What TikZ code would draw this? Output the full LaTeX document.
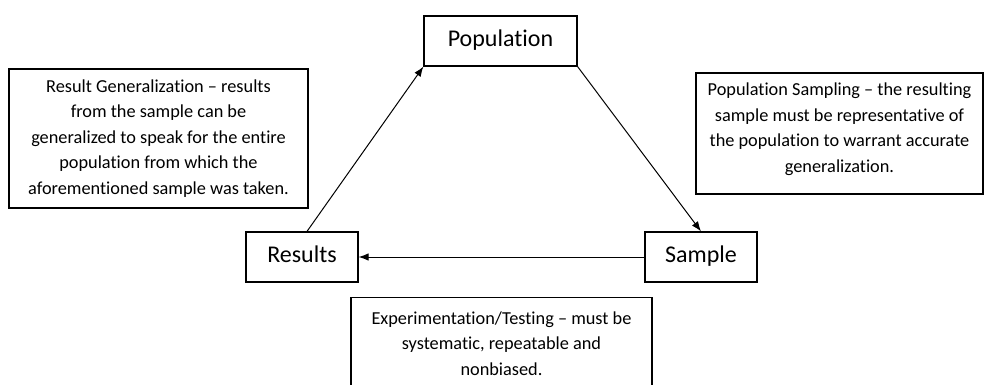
\documentclass[tikz,border=0pt]{standalone}
\usepackage{fontspec}
\setmainfont{Carlito}[Ligatures=NoCommon]
\usetikzlibrary{arrows.meta}
\begin{document}
\begin{tikzpicture}[>={Latex[length=10pt,width=7.5pt]},x=1pt,y=-1pt,
	mainbox/.style={draw,line width=1.2pt,minimum width=112pt,minimum height=50pt,inner sep=0pt,text height=16pt,text depth=5pt,font=\fontsize{24}{28}\selectfont},
	notebox/.style={draw,line width=1.2pt,align=center,inner sep=0pt,font=\fontsize{18.3}{25.5}\selectfont},
	link/.style={->,line width=1pt}]
		\useasboundingbox (0,0) rectangle (985,385);
		\clip (0,0) rectangle (985,385);
		% cycle
		\node[mainbox,minimum width=153pt] (pop) at (500.5,41) {Population};
		\node[mainbox] (res) at (302,257) {Results};
		\node[mainbox] (smp) at (701,257) {Sample};
		\draw[link] ([xshift=5pt]res.north) -- (pop.south west);
		\draw[link] (pop.south east) -- (smp.north);
		\draw[link] (smp.west) -- (res.east);
		% notes
		\node[notebox,minimum width=299pt,minimum height=139pt] (gennote) at (158.5,138.5)
			{Result Generalization -- results\\from the sample can be\\generalized to speak for the entire\\population from which the\\aforementioned sample was taken.};
		\node[notebox,minimum width=287pt,minimum height=121pt,text depth=12pt] (smpnote) at (839.5,133.5)
			{Population Sampling -- the resulting\\sample must be representative of\\the population to warrant accurate\\generalization.};
		\node[notebox,minimum width=301pt,minimum height=92pt,anchor=north] (expnote) at (501.5,297)
			{Experimentation/Testing -- must be\\systematic, repeatable and\\nonbiased.};
\end{tikzpicture}
\end{document}
